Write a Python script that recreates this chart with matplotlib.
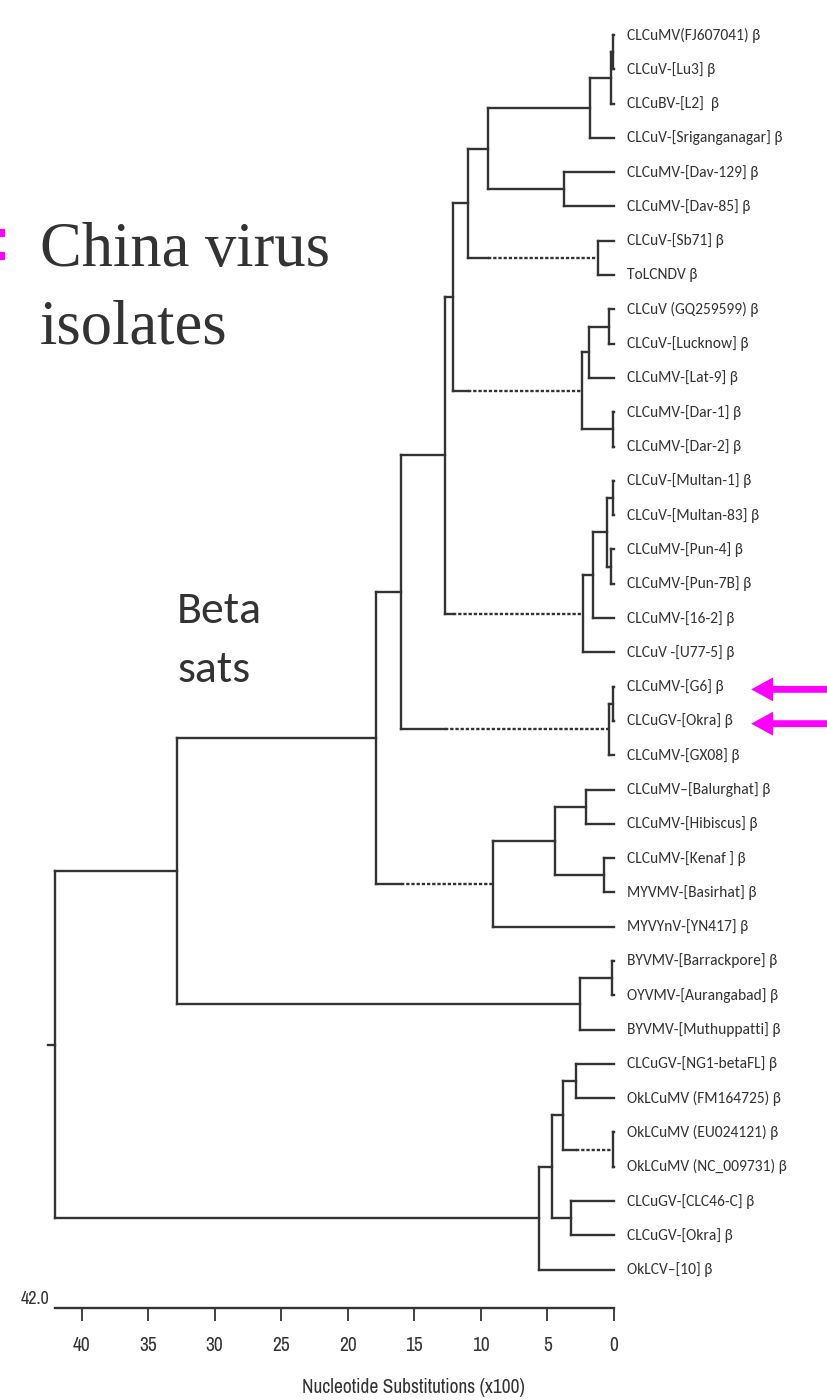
import matplotlib
matplotlib.use("Agg")
import matplotlib.pyplot as plt
from matplotlib.patches import FancyArrow, Rectangle
from matplotlib import font_manager

# ---------------- data ----------------
labels = [
    "CLCuMV(FJ607041) β", "CLCuV-[Lu3] β", "CLCuBV-[L2]  β", "CLCuV-[Sriganganagar] β",
    "CLCuMV-[Dav-129] β", "CLCuMV-[Dav-85] β", "CLCuV-[Sb71] β", "ToLCNDV β",
    "CLCuV (GQ259599) β", "CLCuV-[Lucknow] β", "CLCuMV-[Lat-9] β", "CLCuMV-[Dar-1] β",
    "CLCuMV-[Dar-2] β", "CLCuV-[Multan-1] β", "CLCuV-[Multan-83] β", "CLCuMV-[Pun-4] β",
    "CLCuMV-[Pun-7B] β", "CLCuMV-[16-2] β", "CLCuV -[U77-5] β", "CLCuMV-[G6] β",
    "CLCuGV-[Okra] β", "CLCuMV-[GX08] β", "CLCuMV–[Balurghat] β", "CLCuMV-[Hibiscus] β",
    "CLCuMV-[Kenaf ] β", "MYVMV-[Basirhat] β", "MYVYnV-[YN417] β", "BYVMV-[Barrackpore] β",
    "OYVMV-[Aurangabad] β", "BYVMV-[Muthuppatti] β", "CLCuGV-[NG1-betaFL] β",
    "OkLCuMV (FM164725) β", "OkLCuMV (EU024121) β", "OkLCuMV (NC_009731) β",
    "CLCuGV-[CLC46-C] β", "CLCuGV-[Okra] β", "OkLCV–[10] β",
]
# linkage-style merges: internal node id = len(labels) + k
merge_left = [0, 37, 38, 4, 39, 6, 41, 8, 44, 11, 45, 43, 13, 15, 49, 51, 52, 48,
              19, 55, 54, 22, 24, 58, 60, 57, 27, 63, 62, 30, 32, 66, 34, 68, 70, 65]
merge_right = [1, 2, 3, 5, 40, 7, 42, 9, 10, 12, 46, 47, 14, 16, 50, 17, 18, 53,
               20, 21, 56, 23, 25, 59, 26, 61, 28, 29, 64, 31, 33, 67, 35, 69, 36, 71]
merge_height = [0.1, 0.2, 1.8, 3.75, 9.5, 1.2, 11.0, 0.4, 1.9, 0.05, 2.4, 12.1, 0.1, 0.2,
                0.5, 1.6, 2.3, 12.7, 0.1, 0.35, 16.0, 2.1, 0.75, 4.4, 9.1, 17.9, 0.15,
                2.55, 32.8, 2.85, 0.05, 3.8, 3.2, 4.65, 5.6, 42.0]
dashed_children = [42, 47, 53, 56, 61, 67]
scale_ticks = [40, 35, 30, 25, 20, 15, 10, 5, 0]
scale_max = 42.0
highlighted_leaves = [19, 20]

# ---------------- fonts ----------------
avail = {f.name for f in font_manager.fontManager.ttflist}


def pick(cands):
    for c in cands:
        if c in avail:
            return c
    return "DejaVu Sans"


LEAF_FONT = [pick(["Carlito", "Open Sans Condensed"]), "DejaVu Sans"]
AXIS_FONT = [pick(["Archivo Narrow", "PT Sans Narrow", "Roboto Condensed"]), "DejaVu Sans"]
SERIF = [pick(["Liberation Serif", "Tinos"]), "DejaVu Serif"]

INK = "#333333"
LW = 1.7

fig = plt.figure(figsize=(8.27, 14.0), dpi=100)
ax = fig.add_axes([0, 0, 1, 1])
ax.set_xlim(46.13, -16.0)
ax.set_ylim(39.8, -1.02)
ax.axis("off")

n_leaf = len(labels)
ypos = {i: float(i) for i in range(n_leaf)}
hgt = {i: 0.0 for i in range(n_leaf)}
for k, (l, r, h) in enumerate(zip(merge_left, merge_right, merge_height)):
    nid = n_leaf + k
    ypos[nid] = (ypos[l] + ypos[r]) / 2.0
    hgt[nid] = h

line_kw = dict(color=INK, lw=LW, solid_capstyle="projecting")
for k, (l, r, h) in enumerate(zip(merge_left, merge_right, merge_height)):
    ax.plot([h, h], [ypos[l], ypos[r]], **line_kw)
    for c, sib in ((l, r), (r, l)):
        if c in dashed_children:
            hs = hgt[sib]
            ax.plot([h, hs], [ypos[c], ypos[c]], **line_kw)
            ax.plot([hs, hgt[c]], [ypos[c], ypos[c]], color=INK, lw=LW,
                    linestyle=(0, (1.4, 0.8)))
        else:
            ax.plot([h, hgt[c]], [ypos[c], ypos[c]], **line_kw)

root = n_leaf + len(merge_height) - 1
ax.plot([hgt[root] + 0.5, hgt[root]], [ypos[root], ypos[root]], **line_kw)

for i, lab in enumerate(labels):
    ax.annotate(lab, (0, i), xytext=(9, 0), textcoords="offset points",
                ha="left", va="center", fontsize=11.2, family=LEAF_FONT, color=INK)

# magenta arrows pointing at highlighted leaves
for i in highlighted_leaves:
    ax.add_patch(FancyArrow(-16.5, i + 0.08, 6.2, 0, width=0.2, head_width=0.7,
                            head_length=1.65, length_includes_head=True,
                            color="#ff00ff", lw=0))

# ---------------- scale bar ----------------
ax2 = fig.add_axes([0, 1 - 1308 / 1400, 1, 0.0001])
ax2.set_xlim(46.13, -16.0)
ax2.set_yticks([])
for s in ("top", "left", "right"):
    ax2.spines[s].set_visible(False)
ax2.spines["bottom"].set_bounds(0, scale_max)
ax2.spines["bottom"].set_color(INK)
ax2.spines["bottom"].set_linewidth(1.7)
ax2.patch.set_visible(False)
ax2.set_xticks(scale_ticks)
ax2.set_xticklabels([str(t) for t in scale_ticks])
ax2.tick_params(axis="x", direction="out", length=9, width=1.3, color=INK,
                pad=11, labelsize=14, labelcolor=INK)
for t in ax2.get_xticklabels():
    t.set_family(AXIS_FONT)
ax2.set_xlabel("Nucleotide Substitutions (x100)", fontsize=14, family=AXIS_FONT,
               color=INK, labelpad=17)
ax2.annotate(f"{scale_max:.1f}", (scale_max, 0), xytext=(-4, 1), textcoords="offset points",
             ha="right", va="bottom", fontsize=13, family=AXIS_FONT, color=INK,
             annotation_clip=False)

# ---------------- annotation texts ----------------
fig.text(40 / 827, 1 - 266 / 1400, "China virus", fontsize=45, family=SERIF,
         color=INK, ha="left", va="baseline")
fig.text(40 / 827, 1 - 343 / 1400, "isolates", fontsize=45, family=SERIF,
         color=INK, ha="left", va="baseline")
fig.text(177 / 827, 1 - 623 / 1400, "Beta", fontsize=33, family=LEAF_FONT,
         color=INK, ha="left", va="baseline")
fig.text(177 / 827, 1 - 682 / 1400, "sats", fontsize=33, family=LEAF_FONT,
         color=INK, ha="left", va="baseline")
for yy in (229, 252):
    fig.patches.append(Rectangle((0, 1 - (yy + 8) / 1400), 5 / 827, 8 / 1400,
                                 transform=fig.transFigure, color="#ff00ff", lw=0))

fig.savefig("out.png", dpi=100, facecolor="white")
